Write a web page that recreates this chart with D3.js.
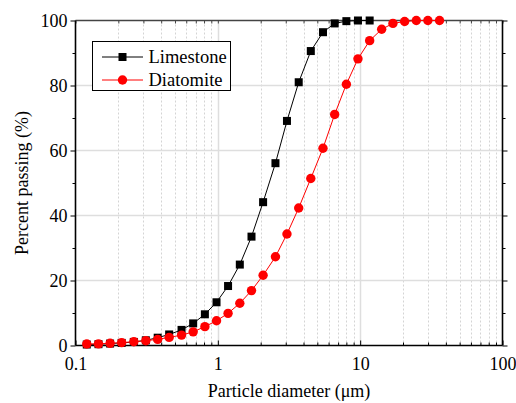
<!DOCTYPE html>
<html>
<head>
<meta charset="utf-8">
<script src="https://cdn.jsdelivr.net/npm/d3@7"></script>
<style>
  html, body { margin: 0; padding: 0; background: #fff; }
  svg { display: block; }
  svg text { font-family: "Liberation Serif", "Times New Roman", serif !important; fill: #000; }
</style>
</head>
<body>
<svg id="chart" width="516" height="403" font-family="Liberation Serif, serif"></svg>
<script>
// Particle size bins (µm), shared by both powders
const diameters = [0.120, 0.145, 0.175, 0.211, 0.257, 0.312, 0.378, 0.455, 0.556, 0.671,
                   0.811, 0.979, 1.18, 1.427, 1.724, 2.08, 2.54, 3.06, 3.70, 4.50,
                   5.48, 6.62, 8.00, 9.65, 11.66, 14.16, 16.99, 20.53, 24.8, 29.9, 36.1];

// Cumulative percent passing
const limestone = [0.3, 0.4, 0.6, 0.8, 1.1, 1.6, 2.4, 3.4, 4.8, 6.8,
                   9.6, 13.3, 18.3, 24.9, 33.5, 44.1, 56.1, 69.1, 81.0, 90.6,
                   96.4, 99.1, 99.8, 100, 100];
const diatomite = [0.46, 0.5, 0.67, 0.87, 1.17, 1.48, 1.9, 2.5, 3.2, 4.2,
                   5.8, 7.6, 9.9, 13.0, 16.9, 21.6, 27.3, 34.3, 42.3, 51.4,
                   60.7, 71.1, 80.4, 88.2, 93.8, 97.3, 99.1, 99.7, 100, 100, 100];

const seriesNames = ["Limestone", "Diatomite"];
const xTickLabels = ["0.1", "1", "10", "100"];
const yTickLabels = ["0", "20", "40", "60", "80", "100"];

(function () {
const FONT = "Liberation Serif, Times New Roman, serif";
const svg = d3.select("#chart");
const pLeft = 75.5, pRight = 502.5, pTop = 20.5, pBottom = 345.5;

const x = d3.scaleLog().domain([0.1, 100]).range([pLeft, pRight]);
const y = d3.scaleLinear().domain([0, 100]).range([pBottom, pTop]);

const xMajor = xTickLabels.map(Number);
const xMinor = [];
for (let d = 0.1; d < 99; d *= 10) {
  for (let k = 2; k <= 9; k++) xMinor.push(+(d * k).toPrecision(3));
}
const yMajor = yTickLabels.map(Number);
const yMinor = [10, 30, 50, 70, 90];

// Grid
const grid = svg.append("g");
grid.selectAll("line.xminor").data(xMinor).join("line")
  .attr("x1", d => Math.round(x(d)) + 0.5).attr("x2", d => Math.round(x(d)) + 0.5)
  .attr("y1", pTop).attr("y2", pBottom)
  .attr("stroke", "#d4d4d4").attr("stroke-width", 1).attr("stroke-dasharray", "2,2");
grid.selectAll("line.xmajor").data(xMajor.slice(1, -1)).join("line")
  .attr("x1", d => Math.round(x(d)) + 0.5).attr("x2", d => Math.round(x(d)) + 0.5)
  .attr("y1", pTop).attr("y2", pBottom)
  .attr("stroke", "#dedede").attr("stroke-width", 1.5);
grid.selectAll("line.ymajor").data(yMajor.slice(1, -1)).join("line")
  .attr("x1", pLeft).attr("x2", pRight)
  .attr("y1", d => y(d)).attr("y2", d => y(d))
  .attr("stroke", "#dedede").attr("stroke-width", 1.5);

// Axes
function styleAxis(g) {
  g.attr("font-family", FONT);
  g.select(".domain").remove();
  g.selectAll("line").attr("stroke", "#000");
}
// bottom: ticks inward
const xb = svg.append("g").attr("transform", `translate(0,${pBottom})`)
  .call(d3.axisBottom(x).tickValues(xMajor).tickSize(-5).tickFormat((d, i) => xTickLabels[i]));
styleAxis(xb);
xb.selectAll("text").attr("font-family", FONT).attr("font-size", 18).attr("y", 12).attr("dy", "0.71em");
svg.append("g").attr("transform", `translate(0,${pBottom})`)
  .call(d3.axisBottom(x).tickValues(xMinor).tickSize(-3).tickFormat(""))
  .call(styleAxis);
// top: ticks inward, dark grey
const xt = svg.append("g").attr("transform", `translate(0,${pTop})`)
  .call(d3.axisTop(x).tickValues(xMinor.concat(xMajor)).tickSize(-3).tickFormat(""));
xt.select(".domain").remove();
xt.selectAll("line").attr("stroke", "#444");
// left: ticks outward
const yl = svg.append("g").attr("transform", `translate(${pLeft},0)`)
  .call(d3.axisLeft(y).tickValues(yMajor).tickSize(5).tickPadding(3).tickFormat((d, i) => yTickLabels[i]));
styleAxis(yl);
yl.selectAll("text").attr("font-family", FONT).attr("font-size", 18).attr("dy", "0.34em");
svg.append("g").attr("transform", `translate(${pLeft},0)`)
  .call(d3.axisLeft(y).tickValues(yMinor).tickSize(3).tickFormat(""))
  .call(styleAxis);
// right: ticks outward
svg.append("g").attr("transform", `translate(${pRight},0)`)
  .call(d3.axisRight(y).tickValues(yMajor).tickSize(5).tickFormat(""))
  .call(styleAxis);
svg.append("g").attr("transform", `translate(${pRight},0)`)
  .call(d3.axisRight(y).tickValues(yMinor).tickSize(3).tickFormat(""))
  .call(styleAxis);

// Frame
svg.append("line").attr("x1", pLeft).attr("x2", pRight).attr("y1", pTop).attr("y2", pTop)
  .attr("stroke", "#444").attr("stroke-width", 1.6);
svg.append("line").attr("x1", pLeft).attr("x2", pRight).attr("y1", pBottom).attr("y2", pBottom)
  .attr("stroke", "#000").attr("stroke-width", 1.6);
svg.append("line").attr("x1", pLeft).attr("x2", pLeft).attr("y1", pTop).attr("y2", pBottom)
  .attr("stroke", "#000").attr("stroke-width", 1.6);
svg.append("line").attr("x1", pRight).attr("x2", pRight).attr("y1", pTop).attr("y2", pBottom)
  .attr("stroke", "#000").attr("stroke-width", 1.6);

// Series
const line = d3.line().x(d => x(d[0])).y(d => y(d[1]));
const limeData = limestone.map((v, i) => [diameters[i], v]);
const diaData = diatomite.map((v, i) => [diameters[i], v]);

const plot = svg.append("g");
plot.append("path").datum(limeData).attr("d", line)
  .attr("fill", "none").attr("stroke", "#000").attr("stroke-width", 1);
plot.selectAll("rect.lime").data(limeData).join("rect")
  .attr("x", d => x(d[0]) - 4).attr("y", d => y(d[1]) - 4)
  .attr("width", 8).attr("height", 8).attr("fill", "#000");

plot.append("path").datum(diaData).attr("d", line)
  .attr("fill", "none").attr("stroke", "#ff0000").attr("stroke-width", 1);
plot.selectAll("circle.dia").data(diaData).join("circle")
  .attr("cx", d => x(d[0])).attr("cy", d => y(d[1])).attr("r", 4.7)
  .attr("fill", "#ff0000");

// Legend
const lg = svg.append("g").attr("font-family", FONT);
lg.append("rect").attr("x", 92.5).attr("y", 41.5).attr("width", 138).attr("height", 49)
  .attr("fill", "#fff").attr("stroke", "#000").attr("stroke-width", 1);
const legendRows = [
  { name: seriesNames[0], color: "#000", shape: "square", cy: 57 },
  { name: seriesNames[1], color: "#ff0000", shape: "circle", cy: 80 }
];
legendRows.forEach(r => {
  lg.append("line").attr("x1", 102).attr("x2", 143).attr("y1", r.cy).attr("y2", r.cy)
    .attr("stroke", r.color).attr("stroke-width", 1);
  if (r.shape === "square") {
    lg.append("rect").attr("x", 122.5 - 4).attr("y", r.cy - 4).attr("width", 8).attr("height", 8)
      .attr("fill", r.color);
  } else {
    lg.append("circle").attr("cx", 122.5).attr("cy", r.cy).attr("r", 4.7).attr("fill", r.color);
  }
  lg.append("text").attr("x", 148.5).attr("y", r.cy).attr("dy", "0.35em")
    .attr("font-size", 18.5).text(r.name);
});

// Axis titles
svg.append("text").attr("x", (pLeft + pRight) / 2).attr("y", 397)
  .attr("font-family", FONT)
  .attr("text-anchor", "middle").attr("font-size", 18).text("Particle diameter (μm)");
svg.append("text").attr("transform", `translate(28,${(pTop + pBottom) / 2}) rotate(-90)`)
  .attr("font-family", FONT)
  .attr("text-anchor", "middle").attr("font-size", 18).text("Percent passing (%)");
})();
</script>
</body>
</html>
